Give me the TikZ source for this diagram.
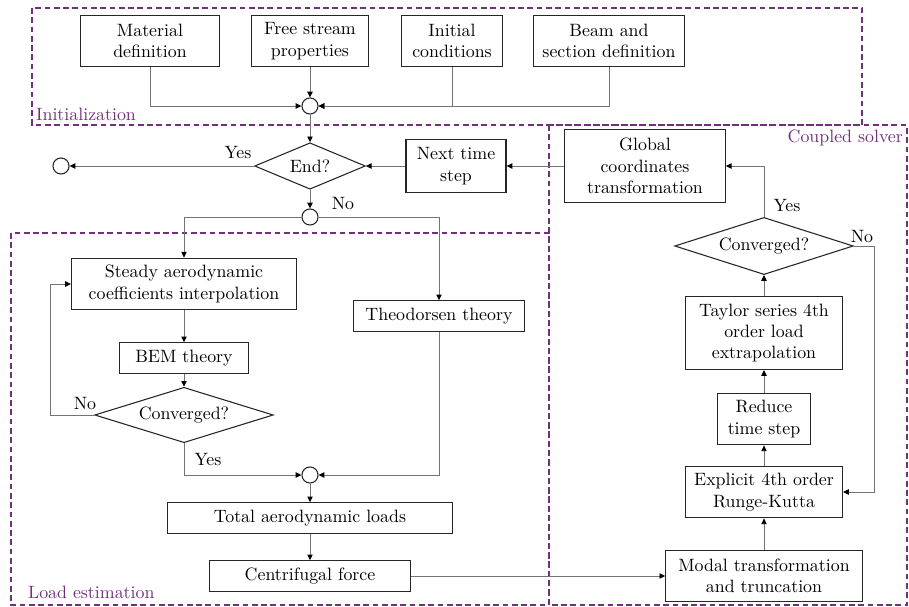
\documentclass[tikz,border=0pt]{standalone}
\usetikzlibrary{shapes.geometric,arrows.meta}
\definecolor{grpcol}{RGB}{112,48,122}

\begin{document}
\begin{tikzpicture}[x=0.56pt, y=-0.56pt,
  blk/.style={draw=black!85, line width=0.6pt, align=center, inner sep=1pt, minimum height=29pt},
  dec/.style={diamond, draw=black!85, line width=0.6pt, aspect=2.5, inner sep=0pt},
  jn/.style={circle, draw=black!85, fill=white, line width=0.6pt, minimum size=9pt, inner sep=0pt},
  conn/.style={draw=black!55, line width=0.5pt, -{Triangle[length=3.2pt, width=3pt, black]}},
  grp/.style={draw=grpcol, dash pattern=on 3.2pt off 2pt, line width=0.6pt},
  grplbl/.style={text=grpcol, inner sep=1pt},
  lbl/.style={inner sep=1pt}]
  \useasboundingbox (0,0) rectangle (909,607);

  % groups
  \draw[grp] (32,8) rectangle (862,125);
  \draw[grp] (549,125) rectangle (907,605);
  \draw[grp] (11,233) rectangle (549,605);
  \node[grplbl, anchor=south west] (lini) at (34,123) {Initialization};
  \node[grplbl, anchor=north east] (lcpl) at (905,128) {Coupled solver};
  \node[grplbl, anchor=south west] (lload) at (26,601) {Load estimation};

  % initialization
  \node[blk, minimum width=78pt] (mat) at (150,41) {Material\\definition};
  \node[blk, minimum width=66pt] (fsp) at (310,41) {Free stream\\properties};
  \node[blk, minimum width=57pt] (ini) at (452,41) {Initial\\conditions};
  \node[blk, minimum width=85pt] (beam) at (609,41) {Beam and\\section definition};
  \node[jn] (j1) at (310,106) {};

  % time loop
  \node[dec, minimum width=62pt, minimum height=26pt] (end) at (310,166) {End?};
  \node[jn] (exit) at (61,166) {};
  \node[blk, minimum width=56pt, minimum height=30pt] (next) at (456,166) {Next time\\step};
  \node[blk, minimum width=90pt, minimum height=41pt] (glob) at (645,166) {Global\\coordinates\\transformation};
  \node[jn] (j2) at (310,217) {};

  % load estimation
  \node[blk, minimum width=126pt] (steady) at (184,284) {Steady aerodynamic\\coefficients interpolation};
  \node[blk, minimum width=72pt, minimum height=17pt] (bem) at (184,358) {BEM theory};
  \node[dec, minimum width=100pt, minimum height=31pt] (conv1) at (184,415) {Converged?};
  \node[blk, minimum width=96pt, minimum height=17pt] (theo) at (439,316) {Theodorsen theory};
  \node[jn] (j3) at (310,475) {};
  \node[blk, minimum width=160pt, minimum height=17pt] (total) at (310,518) {Total aerodynamic loads};
  \node[blk, minimum width=113pt, minimum height=17pt] (cent) at (310,576) {Centrifugal force};

  % coupled solver
  \node[blk, minimum width=110pt] (modal) at (764,576) {Modal transformation\\and truncation};
  \node[blk, minimum width=88pt] (rk) at (764,492) {Explicit 4th order\\Runge-Kutta};
  \node[blk, minimum width=52pt] (red) at (764,419) {Reduce\\time step};
  \node[blk, minimum width=88pt, minimum height=41pt] (tay) at (764,333) {Taylor series 4th\\order load\\extrapolation};
  \node[dec, minimum width=100pt, minimum height=32pt] (conv2) at (764,246) {Converged?};

  % labels
  \node[lbl] (y1) at (238,152) {Yes};
  \node[lbl] (n1) at (343,203) {No};
  \node[lbl] (n2) at (85,403) {No};
  \node[lbl] (y2) at (208,459) {Yes};
  \node[lbl] (y3) at (787,205) {Yes};
  \node[lbl] (n3) at (862,236) {No};

  % connectors
  \draw[conn] (mat.south) |- (j1.west);
  \draw[conn] (fsp.south) -- (j1.north);
  \draw[conn] (beam.south) |- (j1.east);
  \draw[conn] (ini.south) |- (j1.east);
  \draw[conn] (j1.south) -- (end.north);
  \draw[conn] (end.west) -- (exit.east);
  \draw[conn] (next.west) -- (end.east);
  \draw[conn] (glob.west) -- (next.east);
  \draw[conn] (end.south) -- (j2.north);
  \draw[conn] (j2.west) -| (steady.north);
  \draw[conn] (j2.east) -| (theo.north);
  \draw[conn] (steady.south) -- (bem.north);
  \draw[conn] (bem.south) -- (conv1.north);
  \draw[conn] (conv1.west) -- ++(-44,0) |- (steady.west);
  \draw[conn] (conv1.south) |- (j3.west);
  \draw[conn] (theo.south) |- (j3.east);
  \draw[conn] (j3.south) -- (total.north);
  \draw[conn] (total.south) -- (cent.north);
  \draw[conn] (cent.east) -- (modal.west);
  \draw[conn] (modal.north) -- (rk.south);
  \draw[conn] (rk.north) -- (red.south);
  \draw[conn] (red.north) -- (tay.south);
  \draw[conn] (tay.north) -- (conv2.south);
  \draw[conn] (conv2.north) |- (glob.east);
  \draw[conn] (conv2.east) -- ++(21,0) |- (rk.east);
\end{tikzpicture}
\end{document}
